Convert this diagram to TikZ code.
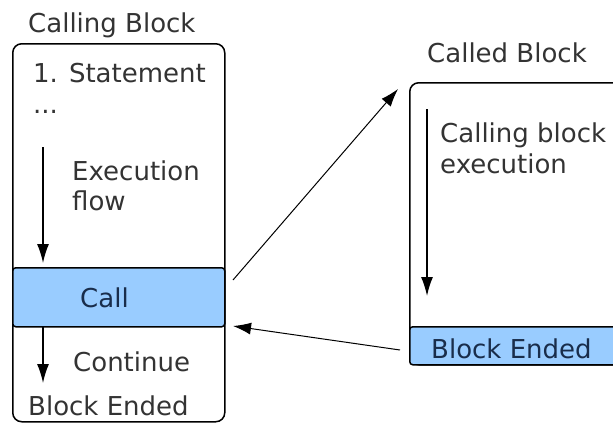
\documentclass[tikz,border=0pt]{standalone}
\usepackage{fontspec}
\setmainfont{DejaVu Sans}
\usetikzlibrary{arrows.meta}
\definecolor{boxblue}{RGB}{153,204,255}
\definecolor{txt}{RGB}{51,51,51}
\definecolor{bluetxt}{RGB}{25,45,75}
\begin{document}
\begin{tikzpicture}[x=1pt,y=-1pt,
  lbl/.style={anchor=base west, inner sep=0pt, text=txt, font=\fontsize{26}{31}\selectfont},
  bluelbl/.style={lbl, text=bluetxt},
  frame/.style={draw=black, line width=1.5pt, rounded corners=9pt, inner sep=0pt, anchor=north west},
  bluebox/.style={draw=black, line width=1.5pt, fill=boxblue, rounded corners=3pt, inner sep=0pt, anchor=north west},
  flow/.style={draw=black, line width=1.4pt, -{Latex[length=19pt,width=12pt]}},
  link/.style={draw=black, line width=1pt, -{Latex[length=18pt,width=12pt]}}]
\useasboundingbox (0,0) rectangle (613,423);
\clip (0,0) rectangle (613,423);
% calling block
\node[frame, minimum width=212pt, minimum height=378pt] (calling) at (12,43) {};
\node[bluebox, minimum width=212pt, minimum height=59pt] (call) at (12,267) {};
% called block
\node[frame, minimum width=240pt, minimum height=282pt] (called) at (409,82) {};
\node[bluebox, minimum width=240pt, minimum height=38pt] (ended) at (409,326) {};
% texts
\node[lbl] (t1) at (28,32) {Calling Block};
\node[lbl] (t2) at (33,82) {1. Statement};
\node[lbl] (t3) at (33,113) {...};
\node[lbl] (t4) at (72,180) {Execution};
\node[lbl] (t5) at (72,210) {flow};
\node[bluelbl] (t6) at (80,307) {Call};
\node[lbl] (t7) at (73,371) {Continue};
\node[lbl] (t8) at (28,415) {Block Ended};
\node[lbl] (t9) at (427,62) {Called Block};
\node[lbl] (t10) at (440,142) {Calling block};
\node[lbl] (t11) at (440,173) {execution};
\node[bluelbl] (t12) at (431,358) {Block Ended};
% connectors
\coordinate (f1s) at (43,147);
\coordinate (f1e) at (43,263);
\coordinate (f2s) at (43,327);
\coordinate (f2e) at (43,383);
\coordinate (f3s) at (427,109);
\coordinate (f3e) at (427,296);
\coordinate (d1s) at (233,280);
\coordinate (d1e) at (398,89);
\coordinate (r1s) at (400,350);
\coordinate (r1e) at (233,326);
\draw[flow] (f1s) -- (f1e);
\draw[flow] (f2s) -- (f2e);
\draw[flow] (f3s) -- (f3e);
\draw[link] (d1s) -- (d1e);
\draw[link] (r1s) -- (r1e);
\end{tikzpicture}
\end{document}
